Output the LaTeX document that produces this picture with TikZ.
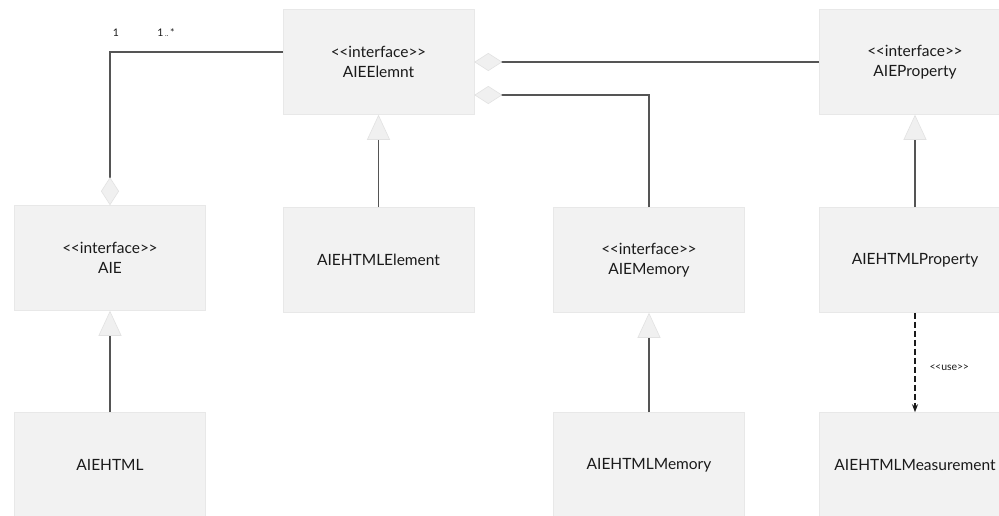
\documentclass[tikz,border=0pt]{standalone}
\usepackage{fontspec}
\setmainfont{Lato}
\usetikzlibrary{arrows.meta}

\definecolor{boxfill}{HTML}{F2F2F2}
\definecolor{boxline}{HTML}{E8E8E8}
\definecolor{wire}{HTML}{555555}
\definecolor{headfill}{HTML}{F0F0F0}
\definecolor{headline}{HTML}{E2E2E2}
\definecolor{ink}{HTML}{1A1A1A}

% UML stereotype guillemets written as plain angle brackets
\newcommand\stereo[1]{<\kern-0.5pt<#1>\kern-0.5pt>}

\begin{document}
\begin{tikzpicture}[x=1pt,y=-1pt,
  cls/.style={rectangle, fill=boxfill, draw=boxline, line width=0.6pt,
    text=ink, align=center, font=\fontsize{15.5}{20}\selectfont, inner sep=0pt,
    minimum width=191pt, minimum height=105pt},
  wire/.style={draw=wire, line width=1.3pt},
  agg/.style={wire, -{Diamond[length=28pt,width=18pt,fill=headfill,color=headline,line width=0.6pt]}},
  gen/.style={wire, -{Triangle[length=25pt,width=23pt,fill=headfill,color=headline,line width=0.6pt]}},
  dep/.style={draw=ink, line width=1.2pt, dash pattern=on 6pt off 3pt,
    -{Stealth[length=8pt,width=6pt]}},
  lab/.style={font=\fontsize{10.5}{12}\selectfont, text=ink, inner sep=0pt}
]
\clip (0,0) rectangle (999,515);
\fill[white] (0,0) rectangle (999,515);

% classes
\node[cls] (elem)   at (378.5,62)  {\stereo{interface}\\AIEElemnt};
\node[cls] (prop)   at (915,62)    {\stereo{interface}\\AIEProperty};
\node[cls] (aie)    at (110,258)   {\stereo{interface}\\AIE};
\node[cls] (htmlel) at (378.5,260) {AIEHTMLElement};
\node[cls] (mem)    at (649,260)   {\stereo{interface}\\AIEMemory};
\node[cls] (hprop)  at (915,260)   {AIEHTMLProperty};
\node[cls] (html)   at (110,465)   {AIEHTML};
\node[cls] (hmem)   at (649,465)   {AIEHTMLMemory};
\node[cls] (meas)   at (915,465)   {AIEHTMLMeasurement};

% aggregations
\draw[agg] ([yshift=10pt]elem.west) -| (aie.north);
\draw[agg] (prop.west) -- (elem.east);
\draw[agg] (mem.north) |- ([yshift=-33pt]elem.east);

% multiplicities
\node[lab] (m1) at (116,33) {1};
\node[lab] (m2) at (166,33) {1\,{\fontsize{7}{7}\selectfont..}\,*};

% generalisations
\draw[gen] (htmlel.north) -- (elem.south);
\draw[gen] (hprop.north) -- (prop.south);
\draw[gen] (html.north) -- (aie.south);
\draw[gen] (hmem.north) -- (mem.south);

% dependency
\draw[dep] (hprop.south) -- (meas.north)
  node[lab, pos=0.55, right=14pt] (use) {\stereo{use}};
\end{tikzpicture}
\end{document}
